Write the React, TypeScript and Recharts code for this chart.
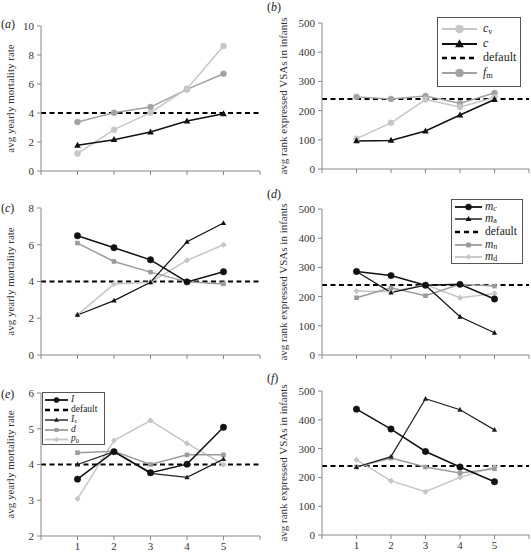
import React from 'react';
import { LineChart, Line, XAxis, YAxis, ReferenceLine } from 'recharts';

const FONT = '"Liberation Serif", "Times New Roman", serif';
const BLACK = '#111';
const GRAY = '#9c9c9c';
const LIGHT = '#c6c6c6';

const xs = [1, 2, 3, 4, 5];
const xTicks = [0, 1, 2, 3, 4, 5, 6];
const mortTicksA = [0, 2, 4, 6, 8, 10];
const mortTicksC = [0, 2, 4, 6, 8];
const mortTicksE = [2, 3, 4, 5, 6];
const rankTicks = [0, 100, 200, 300, 400, 500];
const defaultMort = 4;
const defaultRank = 240;

// (a)/(b): c_v, c, f_m
const cvMort = [1.2, 2.85, 4.02, 5.68, 8.62];
const cMort = [1.77, 2.16, 2.69, 3.45, 3.95];
const fmMort = [3.38, 4.02, 4.41, 5.63, 6.71];
const cvRank = [104, 158, 238, 212, 245];
const cRank = [96, 98, 130, 185, 238];
const fmRank = [247, 240, 250, 225, 260];

// (c)/(d): m_c, m_a, m_n, m_d
const mcMort = [6.49, 5.84, 5.18, 3.98, 4.53];
const maMort = [2.18, 2.96, 3.96, 6.16, 7.18];
const mnMort = [6.09, 5.09, 4.51, 3.98, 3.87];
const mdMort = [2.18, 3.87, 3.96, 5.15, 6.0];
const mcRank = [286, 272, 239, 242, 192];
const maRank = [286, 214, 239, 131, 76];
const mnRank = [196, 230, 203, 242, 236];
const mdRank = [219, 217, 241, 196, 211];

// (e)/(f): I, I_s, d, p_0
const iMort = [3.59, 4.36, 3.77, 4.01, 5.04];
const isMort = [4.0, 4.36, 3.75, 3.64, 4.15];
const dMort = [4.33, 4.37, 4.0, 4.27, 4.27];
const p0Mort = [3.04, 4.67, 5.23, 4.59, 4.0];
const iRank = [437, 368, 290, 236, 185];
const isRank = [236, 272, 473, 435, 365];
const dRank = [236, 267, 236, 215, 230];
const p0Rank = [261, 188, 150, 200, 236];

type Shape = 'circle' | 'triangle' | 'square' | 'diamond';
type Ser = { key: string; values: number[]; color: string; shape: Shape; size: number; width?: number };

function Marker({ shape, x, y, s, color }: { shape: Shape; x: number; y: number; s: number; color: string }) {
  if (shape === 'circle') return <circle cx={x} cy={y} r={s} fill={color} stroke={color} strokeWidth={0.5} />;
  if (shape === 'square') return <rect x={x - s} y={y - s} width={2 * s} height={2 * s} fill={color} />;
  if (shape === 'diamond') return <path d={`M${x},${y - s * 1.2}L${x + s * 1.2},${y}L${x},${y + s * 1.2}L${x - s * 1.2},${y}Z`} fill={color} />;
  return <path d={`M${x},${y - s * 1.2}L${x + s * 1.1},${y + s * 0.8}L${x - s * 1.1},${y + s * 0.8}Z`} fill={color} />;
}

const dotFor = (s: Ser) => (p: any) => (
  <Marker key={`${s.key}-${p.index}`} shape={s.shape} x={p.cx} y={p.cy} s={s.size} color={s.color} />
);

const sub = (t: string, italic = false) => (
  <span style={{ fontSize: '0.7em', position: 'relative', top: '0.2em', lineHeight: 0, fontStyle: italic ? 'italic' : 'normal' }}>{t}</span>
);

type PanelProps = {
  left: number; top: number; width: number; height: number; mt: number; mr: number; xh: number; yw: number;
  domain: [number, number]; ticks: number[]; series: Ser[]; refY: number; yLabel: string; labelOffset: number; showX: boolean;
};

function Panel(p: PanelProps) {
  const data = xs.map((x, i) => {
    const row: Record<string, number> = { x };
    p.series.forEach((s) => { row[s.key] = s.values[i]; });
    return row;
  });
  const tick = { fill: '#333', fontSize: 11, fontFamily: FONT };
  return (
    <div style={{ position: 'absolute', left: p.left, top: p.top }}>
      <LineChart width={p.width} height={p.height} data={data} margin={{ top: p.mt, right: p.mr, bottom: 0, left: 0 }}>
        <XAxis type="number" dataKey="x" domain={[0, 6]} ticks={xTicks} interval={0} height={p.xh} tickSize={4} tickMargin={2}
          stroke="#888" tick={tick} tickFormatter={(v) => (p.showX && v >= 1 && v <= 5 ? String(v) : '')} />
        <YAxis type="number" domain={p.domain} ticks={p.ticks} interval={0} width={p.yw} tickSize={4} tickMargin={3}
          stroke="#888" tick={tick}
          label={{ value: p.yLabel, angle: -90, position: 'insideLeft', offset: p.labelOffset,
            style: { textAnchor: 'middle', fontSize: 11, fill: '#333', fontFamily: FONT } }} />
        <ReferenceLine y={p.refY} stroke="#000" strokeWidth={2} strokeDasharray="5 3.5" />
        {p.series.map((s) => (
          <Line key={s.key} dataKey={s.key} type="linear" stroke={s.color} strokeWidth={s.width ?? 1.5}
            dot={dotFor(s)} activeDot={false} isAnimationActive={false} />
        ))}
      </LineChart>
    </div>
  );
}

type Row = { label: React.ReactNode; color: string; shape?: Shape; size?: number; dashed?: boolean; width?: number };

function LegendBox({ left, top, width, height, rows, ys, x0, x1, tx, fontSize }: {
  left: number; top: number; width: number; height: number; rows: Row[]; ys: number[]; x0: number; x1: number; tx: number; fontSize: number;
}) {
  return (
    <div style={{ position: 'absolute', left, top, width, height, border: '1px solid #555', background: '#fff', boxSizing: 'border-box', fontFamily: FONT, fontSize, color: '#222' }}>
      <svg width={width} height={height} style={{ position: 'absolute', left: -1, top: -1 }}>
        {rows.map((r, i) => (
          <g key={i}>
            <line x1={x0} x2={x1} y1={ys[i]} y2={ys[i]} stroke={r.color} strokeWidth={r.dashed ? 2.5 : r.width ?? 1.8}
              strokeDasharray={r.dashed ? '5 4' : undefined} />
            {r.shape && <Marker shape={r.shape} x={(x0 + x1) / 2} y={ys[i]} s={r.size ?? 3} color={r.color} />}
          </g>
        ))}
      </svg>
      {rows.map((r, i) => (
        <span key={i} style={{ position: 'absolute', left: tx - 1, top: ys[i] - fontSize * 0.55 - 1, lineHeight: 1, height: fontSize, whiteSpace: 'nowrap' }}>{r.label}</span>
      ))}
    </div>
  );
}

const tag = (l: string, left: number, cy: number) => (
  <div style={{ position: 'absolute', left, top: cy - 7, fontFamily: FONT, fontSize: 12, lineHeight: '14px', color: '#222' }}>
    (<i>{l}</i>)
  </div>
);

const MORT = 'avg yearly mortality rate';
const RANK = 'avg rank expressed VSAs in infants';
const L = { left: 0, width: 265, mr: 5, yw: 41, labelOffset: 10 };
const R = { left: 265, width: 266, mr: 2, yw: 57, labelOffset: 18 };

export default function App() {
  const abMort: Ser[] = [
    { key: 'fm', values: fmMort, color: '#a2a2a2', shape: 'circle', size: 3 },
    { key: 'cv', values: cvMort, color: LIGHT, shape: 'circle', size: 3 },
    { key: 'c', values: cMort, color: BLACK, shape: 'triangle', size: 3 },
  ];
  const abRank: Ser[] = [
    { key: 'fm', values: fmRank, color: '#a2a2a2', shape: 'circle', size: 3 },
    { key: 'cv', values: cvRank, color: LIGHT, shape: 'circle', size: 3 },
    { key: 'c', values: cRank, color: BLACK, shape: 'triangle', size: 3 },
  ];
  const cdMort: Ser[] = [
    { key: 'md', values: mdMort, color: LIGHT, shape: 'diamond', size: 2.6 },
    { key: 'mn', values: mnMort, color: GRAY, shape: 'square', size: 2.3 },
    { key: 'ma', values: maMort, color: BLACK, shape: 'triangle', size: 2.4, width: 1.2 },
    { key: 'mc', values: mcMort, color: BLACK, shape: 'circle', size: 3.2 },
  ];
  const cdRank: Ser[] = [
    { key: 'md', values: mdRank, color: LIGHT, shape: 'diamond', size: 2.6 },
    { key: 'mn', values: mnRank, color: GRAY, shape: 'square', size: 2.3 },
    { key: 'ma', values: maRank, color: BLACK, shape: 'triangle', size: 2.4, width: 1.2 },
    { key: 'mc', values: mcRank, color: BLACK, shape: 'circle', size: 3.2 },
  ];
  const efMort: Ser[] = [
    { key: 'p0', values: p0Mort, color: LIGHT, shape: 'diamond', size: 2.6 },
    { key: 'd', values: dMort, color: GRAY, shape: 'square', size: 2.3 },
    { key: 'is', values: isMort, color: '#222', shape: 'triangle', size: 2.4, width: 1.2 },
    { key: 'i', values: iMort, color: BLACK, shape: 'circle', size: 3.2 },
  ];
  const efRank: Ser[] = [
    { key: 'p0', values: p0Rank, color: LIGHT, shape: 'diamond', size: 2.6 },
    { key: 'd', values: dRank, color: GRAY, shape: 'square', size: 2.3 },
    { key: 'is', values: isRank, color: '#222', shape: 'triangle', size: 2.4, width: 1.2 },
    { key: 'i', values: iRank, color: BLACK, shape: 'circle', size: 3.2 },
  ];

  return (
    <div style={{ position: 'absolute', left: 0, top: 0, width: 531, height: 554, background: '#fff', overflow: 'hidden' }}>
      <Panel {...L} top={0} height={180} mt={26} xh={9} domain={[0, 10]} ticks={mortTicksA} series={abMort} refY={defaultMort} yLabel={MORT} showX={false} />
      <Panel {...R} top={0} height={178} mt={23} xh={9} domain={[0, 500]} ticks={rankTicks} series={abRank} refY={defaultRank} yLabel={RANK} showX={false} />
      <Panel {...L} top={180} height={184} mt={28} xh={9} domain={[0, 8]} ticks={mortTicksC} series={cdMort} refY={defaultMort} yLabel={MORT} showX={false} />
      <Panel {...R} top={180} height={184} mt={29} xh={9} domain={[0, 500]} ticks={rankTicks} series={cdRank} refY={defaultRank} yLabel={RANK} showX={false} />
      <Panel {...L} top={364} height={190} mt={29} xh={18} domain={[2, 6]} ticks={mortTicksE} series={efMort} refY={defaultMort} yLabel={MORT} showX />
      <Panel {...R} top={364} height={190} mt={27} xh={19} domain={[0, 500]} ticks={rankTicks} series={efRank} refY={defaultRank} yLabel={RANK} showX />

      {tag('a', 1, 24)}
      {tag('b', 267, 7)}
      {tag('c', 1, 208)}
      {tag('d', 267, 194)}
      {tag('e', 1, 394)}
      {tag('f', 267, 378)}

      <LegendBox left={437} top={17} width={84} height={70} ys={[12, 27, 41, 56]} x0={5} x1={40} tx={46} fontSize={12}
        rows={[
          { label: <><i>c</i>{sub('v')}</>, color: LIGHT, shape: 'circle', size: 4 },
          { label: <i>c</i>, color: BLACK, shape: 'triangle', size: 4, width: 2.2 },
          { label: 'default', color: '#000', dashed: true },
          { label: <><i>f</i>{sub('m')}</>, color: '#a2a2a2', shape: 'circle', size: 4 },
        ]} />
      <LegendBox left={451} top={199} width={72} height={65} ys={[8, 20, 33, 46, 58]} x0={4} x1={31} tx={34} fontSize={11.5}
        rows={[
          { label: <><i>m</i>{sub('c', true)}</>, color: BLACK, shape: 'circle', size: 3 },
          { label: <><i>m</i>{sub('a')}</>, color: BLACK, shape: 'triangle', size: 2.6, width: 1.4 },
          { label: 'default', color: '#000', dashed: true },
          { label: <><i>m</i>{sub('n', true)}</>, color: GRAY, shape: 'square', size: 2.4 },
          { label: <><i>m</i>{sub('d')}</>, color: LIGHT, shape: 'diamond', size: 2.4 },
        ]} />
      <LegendBox left={42} top={392} width={63} height={53} ys={[8, 18, 28, 38, 47.5]} x0={3} x1={26} tx={29} fontSize={9.5}
        rows={[
          { label: <i>I</i>, color: BLACK, shape: 'circle', size: 2.6 },
          { label: 'default', color: '#000', dashed: true },
          { label: <><i>I</i>{sub('s', true)}</>, color: '#222', shape: 'triangle', size: 2.2, width: 1.4 },
          { label: <i>d</i>, color: GRAY, shape: 'square', size: 2 },
          { label: <><i>p</i>{sub('0')}</>, color: LIGHT, shape: 'diamond', size: 2.2 },
        ]} />
    </div>
  );
}
